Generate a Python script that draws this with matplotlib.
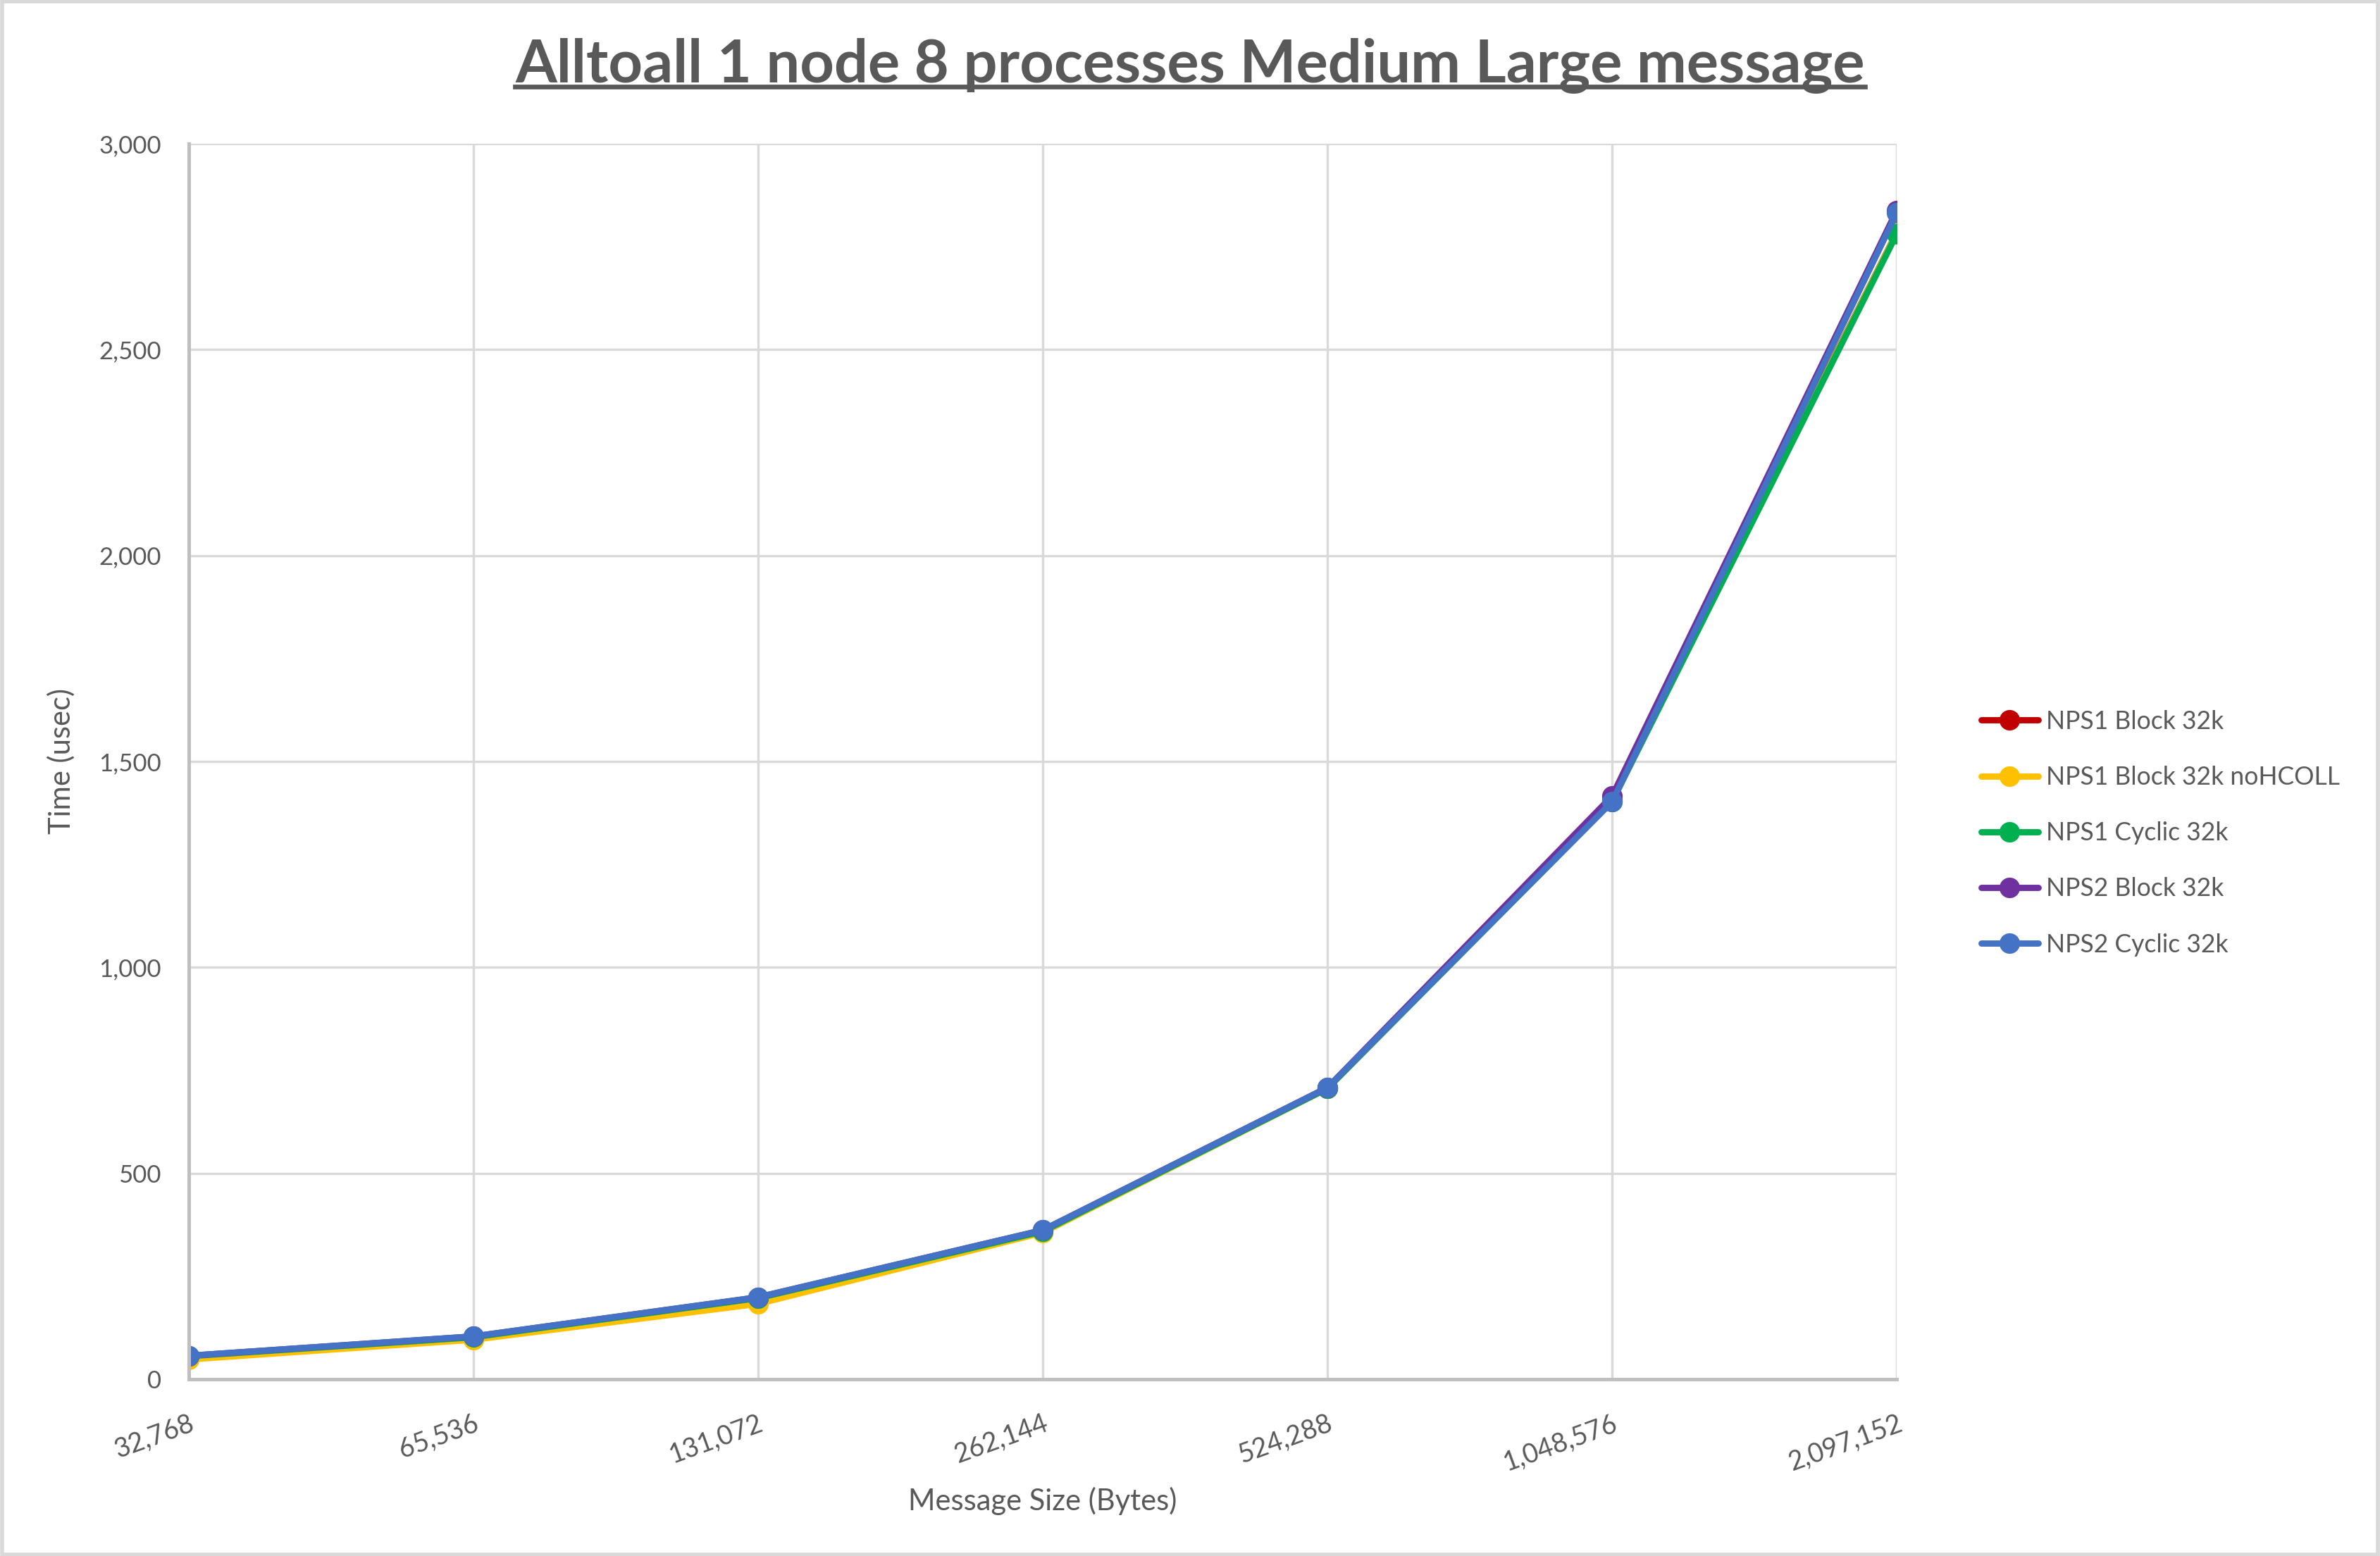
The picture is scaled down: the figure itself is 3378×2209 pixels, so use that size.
import matplotlib
matplotlib.use("Agg")
import matplotlib.pyplot as plt
from matplotlib.lines import Line2D
from matplotlib.patches import Rectangle
from matplotlib.ticker import FuncFormatter

plt.rcParams['font.family'] = ['Lato', 'DejaVu Sans']

# message sizes (categorical x axis)
sizes = [32768, 65536, 131072, 262144, 524288, 1048576, 2097152]
size_labels = [f"{s:,}" for s in sizes]

# time in usec
nps1_block = [55, 101, 196, 360, 707, 1408, 2785]
nps1_block_nohcoll = [48, 96, 183, 356, 706, 1405, 2784]
nps1_cyclic = [56, 102, 197, 359, 706, 1403, 2781]
nps2_block = [57, 104, 199, 362, 708, 1416, 2838]
nps2_cyclic = [57, 104, 199, 362, 708, 1402, 2832]

series = [
    ("NPS1 Block 32k", nps1_block, "#C00000"),
    ("NPS1 Block 32k noHCOLL", nps1_block_nohcoll, "#FFC000"),
    ("NPS1 Cyclic 32k", nps1_cyclic, "#00B050"),
    ("NPS2 Block 32k", nps2_block, "#7030A0"),
    ("NPS2 Cyclic 32k", nps2_cyclic, "#4472C4"),
]

text_col = "#595959"
grid_col = "#D9D9D9"

fig = plt.figure(figsize=(16.89, 11.045), dpi=200)
ax = fig.add_axes([0.0793, 0.1136, 0.7177, 0.7941])

x = list(range(len(sizes)))
for name, vals, col in series:
    ax.plot(x, vals, color=col, lw=3.2, marker='o', markersize=9.5,
            label=name, solid_capstyle='round')

ax.set_xlim(0, len(sizes) - 1)
ax.set_ylim(0, 3000)
ax.set_yticks(range(0, 3001, 500))
ax.yaxis.set_major_formatter(FuncFormatter(lambda v, p: f"{int(v):,}"))
ax.set_xticks(x)
ax.set_xticklabels(size_labels, rotation=20, ha='right', va='top',
                   rotation_mode='anchor')

ax.grid(True, color=grid_col, lw=1.2)
ax.set_axisbelow(True)
for s in ['top', 'right']:
    ax.spines[s].set_visible(False)
for s in ['bottom', 'left']:
    ax.spines[s].set_color("#BFBFBF")
    ax.spines[s].set_linewidth(1.8)
ax.tick_params(length=0, labelsize=12.5, labelcolor=text_col)
ax.tick_params(axis='x', pad=16, labelsize=13.5)
ax.tick_params(axis='y', pad=14)

ax.set_xlabel("Message Size (Bytes)", fontsize=15, color=text_col, labelpad=6)
ax.set_ylabel("Time (usec)", fontsize=15, color=text_col, labelpad=12)

leg = ax.legend(loc='center left', bbox_to_anchor=(1.036, 0.442), frameon=False,
                fontsize=12.8, labelcolor=text_col, handlelength=2.3,
                handletextpad=0.3, labelspacing=1.3)

title = fig.text(0.5, 0.958, "Alltoall 1 node 8 processes Medium Large message",
                 ha='center', va='center', fontsize=30.5, fontweight='bold',
                 color=text_col)

# underline the title
fig.canvas.draw()
bb = title.get_window_extent().transformed(fig.transFigure.inverted())
uy = bb.y0 + 0.004
fig.add_artist(Line2D([bb.x0, bb.x1], [uy, uy], color=text_col, lw=2.4,
                      transform=fig.transFigure))

# chart border
fig.add_artist(Rectangle((0.001, 0.001), 0.998, 0.998, transform=fig.transFigure,
                         fill=False, edgecolor=grid_col, lw=2))

fig.savefig("out.png", dpi=200)
